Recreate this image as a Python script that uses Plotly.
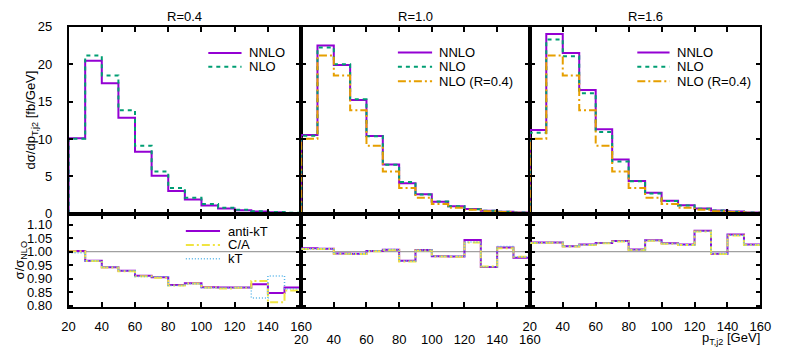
import plotly.graph_objects as go

W, H = 790, 352

# ---------------- data ----------------
pt_edges = [20, 30, 40, 50, 60, 70, 80, 90, 100, 110, 120, 130, 140, 150, 160]
x_ticks = [20, 40, 60, 80, 100, 120, 140, 160]
y_top_ticks = [0, 5, 10, 15, 20, 25]
y_ratio_ticks = [0.80, 0.85, 0.90, 0.95, 1.00, 1.05, 1.10]
panel_titles = ["R=0.4", "R=1.0", "R=1.6"]

# dsigma/dpT,j2 [fb/GeV]
nnlo_R04 = [10.1, 20.45, 17.45, 12.85, 8.3, 5.1, 3.05, 1.9, 1.1, 0.72, 0.47, 0.3, 0.2, 0.12]
nlo_R04 = [10.05, 21.15, 18.5, 13.85, 9.1, 5.65, 3.45, 2.15, 1.3, 0.82, 0.53, 0.35, 0.23, 0.14]
nnlo_R10 = [10.55, 22.5, 19.9, 15.2, 10.4, 6.6, 4.1, 2.6, 1.62, 1.0, 0.65, 0.4, 0.26, 0.16]
nlo_R10 = [10.42, 22.25, 20.0, 15.3, 10.37, 6.55, 4.24, 2.58, 1.65, 1.02, 0.62, 0.42, 0.26, 0.16]
nnlo_R16 = [11.2, 24.05, 21.5, 16.55, 11.3, 7.25, 4.4, 2.82, 1.75, 1.15, 0.72, 0.44, 0.3, 0.18]
nlo_R16 = [10.85, 23.3, 21.08, 16.13, 10.95, 6.98, 4.36, 2.7, 1.7, 1.12, 0.67, 0.44, 0.28, 0.175]

# sigma / sigma_NLO for each jet algorithm
antikt_R04 = [1.002, 0.966, 0.942, 0.929, 0.911, 0.905, 0.876, 0.883, 0.868, 0.867, 0.867, 0.879, 0.847, 0.867]
ca_R04 = [1.001, 0.965, 0.941, 0.927, 0.909, 0.903, 0.874, 0.882, 0.867, 0.863, 0.866, 0.891, 0.812, 0.856]
kt_R04 = [0.996, 0.966, 0.943, 0.929, 0.908, 0.907, 0.874, 0.881, 0.866, 0.866, 0.867, 0.828, 0.910, 0.862]
antikt_R10 = [1.012, 1.011, 0.993, 0.992, 1.002, 1.007, 0.966, 1.006, 0.983, 0.982, 1.043, 0.943, 1.015, 0.977]
ca_R10 = [1.010, 1.010, 0.992, 0.991, 1.001, 1.006, 0.963, 1.004, 0.982, 0.981, 1.034, 0.945, 1.012, 0.981]
kt_R10 = [1.011, 1.011, 0.993, 0.992, 1.003, 1.008, 0.965, 1.006, 0.983, 0.983, 1.036, 0.944, 1.019, 0.980]
antikt_R16 = [1.034, 1.034, 1.020, 1.026, 1.032, 1.039, 1.008, 1.042, 1.031, 1.026, 1.077, 0.992, 1.063, 1.026]
ca_R16 = [1.032, 1.033, 1.019, 1.024, 1.031, 1.037, 1.006, 1.040, 1.029, 1.024, 1.074, 0.991, 1.060, 1.024]
kt_R16 = [1.033, 1.034, 1.020, 1.025, 1.032, 1.038, 1.007, 1.041, 1.030, 1.025, 1.075, 0.993, 1.061, 1.025]

# ---------------- style ----------------
C_PURPLE = "#9400D3"
C_GREEN = "#009E73"
C_ORANGE = "#E69F00"
C_YELLOW = "#F0E442"
C_BLUE = "#56B4E9"
FONT = "Liberation Sans, Arial, sans-serif"

STY_NNLO = dict(color=C_PURPLE, width=2, dash="solid")
STY_NLO = dict(color=C_GREEN, width=2, dash="4px,4px")
STY_NLO04 = dict(color=C_ORANGE, width=2, dash="8px,3px,2px,3px")
STY_AKT = dict(color=C_PURPLE, width=2, dash="solid")
STY_CA = dict(color=C_YELLOW, width=2, dash="8px,3px,2px,3px")
STY_KT = dict(color=C_BLUE, width=1.5, dash="1px,2px")


def px(x):
    return x / W


def py(y):
    return 1 - y / H


# panel geometry (pixels)
xdom = [(63, 301), (301, 535), (535, 771)]
top_y = (20.7, 216)
bot_y = (216, 313.3)

fig = go.Figure()


def step_top(vals, ax, sty, name):
    xs = [pt_edges[0]] + pt_edges
    ys = [0] + vals + [vals[-1]]
    fig.add_trace(go.Scatter(x=xs, y=ys, mode="lines", line=dict(shape="hv", **sty),
                             name=name, xaxis=ax[0], yaxis=ax[1], showlegend=False,
                             hoverinfo="skip"))


def step_bot(vals, ax, sty, name):
    xs = pt_edges
    ys = vals + [vals[-1]]
    fig.add_trace(go.Scatter(x=xs, y=ys, mode="lines", line=dict(shape="hv", **sty),
                             name=name, xaxis=ax[0], yaxis=ax[1], showlegend=False,
                             hoverinfo="skip"))


top_axes = [("x", "y"), ("x2", "y2"), ("x3", "y3")]
bot_axes = [("x4", "y4"), ("x5", "y5"), ("x6", "y6")]

# top panels
step_top(nnlo_R04, top_axes[0], STY_NNLO, "NNLO")
step_top(nlo_R04, top_axes[0], STY_NLO, "NLO")
step_top(nnlo_R10, top_axes[1], STY_NNLO, "NNLO")
step_top(nlo_R10, top_axes[1], STY_NLO, "NLO")
step_top(nlo_R04, top_axes[1], STY_NLO04, "NLO (R=0.4)")
step_top(nnlo_R16, top_axes[2], STY_NNLO, "NNLO")
step_top(nlo_R16, top_axes[2], STY_NLO, "NLO")
step_top(nlo_R04, top_axes[2], STY_NLO04, "NLO (R=0.4)")

# ratio panels
for i, (a, c, k) in enumerate([(antikt_R04, ca_R04, kt_R04),
                                (antikt_R10, ca_R10, kt_R10),
                                (antikt_R16, ca_R16, kt_R16)]):
    step_bot(a, bot_axes[i], STY_AKT, "anti-kT")
    step_bot(c, bot_axes[i], STY_CA, "C/A")
    step_bot(k, bot_axes[i], STY_KT, "kT")

axis_common = dict(showline=True, linecolor="black", linewidth=1.5, mirror="ticks",
                   ticks="inside", ticklen=5, tickwidth=1.5, tickcolor="black",
                   showgrid=False, zeroline=False, fixedrange=True,
                   tickfont=dict(family=FONT, size=13, color="black"))

layout = dict(width=W, height=H, margin=dict(l=0, r=0, t=0, b=0),
              paper_bgcolor="white", plot_bgcolor="white", showlegend=False)

for i in range(3):
    n = "" if i == 0 else str(i + 1)
    xd = [px(xdom[i][0]), px(xdom[i][1])]
    # top
    layout["xaxis" + n] = dict(axis_common, domain=xd, range=[20, 160], tickvals=x_ticks,
                               showticklabels=False, anchor="y" + n)
    layout["yaxis" + n] = dict(axis_common, domain=[py(top_y[1]), py(top_y[0])], range=[0, 25],
                               tickvals=y_top_ticks, showticklabels=(i == 0), anchor="x" + n,
                               ticklabelstandoff=12)
    # bottom
    m = str(i + 4)
    layout["xaxis" + m] = dict(axis_common, domain=xd, range=[20, 160], tickvals=x_ticks,
                               showticklabels=True, anchor="y" + m,
                               ticklabelstandoff=(20 if i == 1 else 7))
    layout["yaxis" + m] = dict(axis_common, domain=[py(bot_y[1]), py(bot_y[0])], range=[0.795, 1.14],
                               tickvals=y_ratio_ticks, tickformat=".2f",
                               showticklabels=(i == 0), anchor="x" + m,
                               ticklabelstandoff=12)

fig.update_layout(**layout)

shapes = []
annotations = []

# reference line at 1 in ratio panels
for i in range(3):
    m = str(i + 4)
    shapes.append(dict(type="line", xref="x" + m + " domain", yref="y" + m, x0=0, x1=1, y0=1.0, y1=1.0,
                       line=dict(color="#A0A0A0", width=1.2), layer="below"))

# panel titles
for i, t in enumerate(panel_titles):
    annotations.append(dict(text=t, x=px((xdom[i][0] + xdom[i][1]) / 2), y=py(10), xref="paper", yref="paper",
                            showarrow=False, xanchor="center", yanchor="middle",
                            font=dict(family=FONT, size=13, color="black")))

# legends (manual)
def legend(entries, x0, x1, xt, ys):
    for (label, sty), yy in zip(entries, ys):
        shapes.append(dict(type="line", xref="paper", yref="paper", x0=px(x0), x1=px(x1),
                           y0=py(yy), y1=py(yy), line=sty))
        annotations.append(dict(text=label, x=px(xt), y=py(yy), xref="paper", yref="paper",
                                showarrow=False, xanchor="left", yanchor="middle",
                                font=dict(family=FONT, size=13, color="black")))


legend([("NNLO", STY_NNLO), ("NLO", STY_NLO)], 206, 240, 246, [48, 62.5])
legend([("NNLO", STY_NNLO), ("NLO", STY_NLO), ("NLO (R=0.4)", STY_NLO04)], 400, 435, 440, [47.5, 62.5, 77.5])
legend([("NNLO", STY_NNLO), ("NLO", STY_NLO), ("NLO (R=0.4)", STY_NLO04)], 645, 678, 684, [47.5, 62.5, 77.5])
legend([("anti-kT", STY_AKT), ("C/A", STY_CA), ("kT", STY_KT)], 183, 218, 224, [234, 248.5, 263])

# axis titles
annotations.append(dict(text="dσ/dp<sub>T,j2</sub> [fb/GeV]", x=px(26), y=py(118), xref="paper", yref="paper",
                        showarrow=False, textangle=-90, xanchor="center", yanchor="middle",
                        font=dict(family=FONT, size=13, color="black")))
annotations.append(dict(text="σ/σ<sub>NLO</sub>", x=px(14), y=py(265), xref="paper", yref="paper",
                        showarrow=False, textangle=-90, xanchor="center", yanchor="middle",
                        font=dict(family=FONT, size=13, color="black")))
annotations.append(dict(text="p<sub>T,j2</sub> [GeV]", x=px(773), y=py(346), xref="paper", yref="paper",
                        showarrow=False, xanchor="right", yanchor="middle",
                        font=dict(family=FONT, size=13, color="black")))

fig.update_layout(shapes=shapes, annotations=annotations)

fig.write_html("out.html", config={"displayModeBar": False},
               post_script="document.body.style.margin='0';document.body.style.padding='0';")
